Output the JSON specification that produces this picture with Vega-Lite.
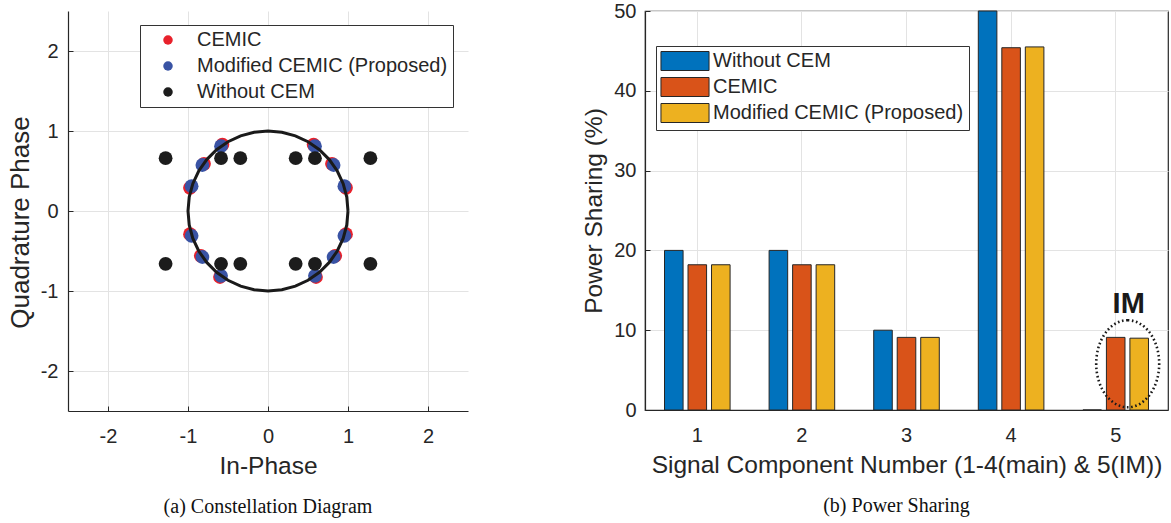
{
  "$schema": "https://vega.github.io/schema/vega-lite/v6.json",
  "padding": {"left": 7, "top": 0, "right": 2, "bottom": 2},
  "background": "white",
  "config": {
    "font": "Liberation Sans",
    "view": {"stroke": null},
    "concat": {"spacing": 113},
    "axis": {
      "labelFont": "Liberation Sans",
      "titleFont": "Liberation Sans",
      "labelFontSize": 20,
      "titleFontSize": 24.5,
      "titleFontWeight": "normal",
      "labelColor": "#262626",
      "titleColor": "#262626",
      "domainColor": "#262626",
      "domainWidth": 1.2,
      "tickColor": "#262626",
      "tickSize": -5,
      "tickWidth": 1,
      "gridColor": "#e3e3e3",
      "gridWidth": 1
    }
  },
  "resolve": {"scale": {"color": "independent"}, "legend": {"color": "independent"}},
  "datasets": {
    "pts": [
      {"series": "CEMIC", "I": -0.57, "Q": 0.83},
      {"series": "CEMIC", "I": -0.8, "Q": 0.59},
      {"series": "CEMIC", "I": -0.975, "Q": 0.29},
      {"series": "CEMIC", "I": -0.975, "Q": -0.29},
      {"series": "CEMIC", "I": -0.84, "Q": -0.56},
      {"series": "CEMIC", "I": -0.6, "Q": -0.825},
      {"series": "CEMIC", "I": 0.57, "Q": 0.83},
      {"series": "CEMIC", "I": 0.8, "Q": 0.59},
      {"series": "CEMIC", "I": 0.975, "Q": 0.29},
      {"series": "CEMIC", "I": 0.975, "Q": -0.29},
      {"series": "CEMIC", "I": 0.84, "Q": -0.56},
      {"series": "CEMIC", "I": 0.6, "Q": -0.825},
      {"series": "Modified CEMIC (Proposed)", "I": -0.587, "Q": 0.81},
      {"series": "Modified CEMIC (Proposed)", "I": -0.82, "Q": 0.575},
      {"series": "Modified CEMIC (Proposed)", "I": -0.955, "Q": 0.31},
      {"series": "Modified CEMIC (Proposed)", "I": -0.955, "Q": -0.31},
      {"series": "Modified CEMIC (Proposed)", "I": -0.82, "Q": -0.575},
      {"series": "Modified CEMIC (Proposed)", "I": -0.587, "Q": -0.81},
      {"series": "Modified CEMIC (Proposed)", "I": 0.587, "Q": 0.81},
      {"series": "Modified CEMIC (Proposed)", "I": 0.82, "Q": 0.575},
      {"series": "Modified CEMIC (Proposed)", "I": 0.955, "Q": 0.31},
      {"series": "Modified CEMIC (Proposed)", "I": 0.955, "Q": -0.31},
      {"series": "Modified CEMIC (Proposed)", "I": 0.82, "Q": -0.575},
      {"series": "Modified CEMIC (Proposed)", "I": 0.587, "Q": -0.81},
      {"series": "Without CEM", "I": -1.28, "Q": 0.66},
      {"series": "Without CEM", "I": -0.587, "Q": 0.66},
      {"series": "Without CEM", "I": -0.346, "Q": 0.66},
      {"series": "Without CEM", "I": 0.346, "Q": 0.66},
      {"series": "Without CEM", "I": 0.587, "Q": 0.66},
      {"series": "Without CEM", "I": 1.28, "Q": 0.66},
      {"series": "Without CEM", "I": -1.28, "Q": -0.66},
      {"series": "Without CEM", "I": -0.587, "Q": -0.66},
      {"series": "Without CEM", "I": -0.346, "Q": -0.66},
      {"series": "Without CEM", "I": 0.346, "Q": -0.66},
      {"series": "Without CEM", "I": 0.587, "Q": -0.66},
      {"series": "Without CEM", "I": 1.28, "Q": -0.66}
    ],
    "circle": [
      {"a": 0, "I": 1, "Q": 0},
      {"a": 10, "I": 0.9848, "Q": 0.1736},
      {"a": 20, "I": 0.9397, "Q": 0.342},
      {"a": 30, "I": 0.866, "Q": 0.5},
      {"a": 40, "I": 0.766, "Q": 0.6428},
      {"a": 50, "I": 0.6428, "Q": 0.766},
      {"a": 60, "I": 0.5, "Q": 0.866},
      {"a": 70, "I": 0.342, "Q": 0.9397},
      {"a": 80, "I": 0.1736, "Q": 0.9848},
      {"a": 90, "I": 0, "Q": 1},
      {"a": 100, "I": -0.1736, "Q": 0.9848},
      {"a": 110, "I": -0.342, "Q": 0.9397},
      {"a": 120, "I": -0.5, "Q": 0.866},
      {"a": 130, "I": -0.6428, "Q": 0.766},
      {"a": 140, "I": -0.766, "Q": 0.6428},
      {"a": 150, "I": -0.866, "Q": 0.5},
      {"a": 160, "I": -0.9397, "Q": 0.342},
      {"a": 170, "I": -0.9848, "Q": 0.1736},
      {"a": 180, "I": -1, "Q": 0},
      {"a": 190, "I": -0.9848, "Q": -0.1736},
      {"a": 200, "I": -0.9397, "Q": -0.342},
      {"a": 210, "I": -0.866, "Q": -0.5},
      {"a": 220, "I": -0.766, "Q": -0.6428},
      {"a": 230, "I": -0.6428, "Q": -0.766},
      {"a": 240, "I": -0.5, "Q": -0.866},
      {"a": 250, "I": -0.342, "Q": -0.9397},
      {"a": 260, "I": -0.1736, "Q": -0.9848},
      {"a": 270, "I": 0, "Q": -1},
      {"a": 280, "I": 0.1736, "Q": -0.9848},
      {"a": 290, "I": 0.342, "Q": -0.9397},
      {"a": 300, "I": 0.5, "Q": -0.866},
      {"a": 310, "I": 0.6428, "Q": -0.766},
      {"a": 320, "I": 0.766, "Q": -0.6428},
      {"a": 330, "I": 0.866, "Q": -0.5},
      {"a": 340, "I": 0.9397, "Q": -0.342},
      {"a": 350, "I": 0.9848, "Q": -0.1736},
      {"a": 360, "I": 1, "Q": 0}
    ],
    "bars": [
      {"comp": "1", "series": "Without CEM", "pct": 20},
      {"comp": "1", "series": "CEMIC", "pct": 18.2},
      {"comp": "1", "series": "Modified CEMIC (Proposed)", "pct": 18.2},
      {"comp": "2", "series": "Without CEM", "pct": 20},
      {"comp": "2", "series": "CEMIC", "pct": 18.2},
      {"comp": "2", "series": "Modified CEMIC (Proposed)", "pct": 18.2},
      {"comp": "3", "series": "Without CEM", "pct": 10},
      {"comp": "3", "series": "CEMIC", "pct": 9.1},
      {"comp": "3", "series": "Modified CEMIC (Proposed)", "pct": 9.1},
      {"comp": "4", "series": "Without CEM", "pct": 50},
      {"comp": "4", "series": "CEMIC", "pct": 45.4},
      {"comp": "4", "series": "Modified CEMIC (Proposed)", "pct": 45.5},
      {"comp": "5", "series": "Without CEM", "pct": 0},
      {"comp": "5", "series": "CEMIC", "pct": 9.1},
      {"comp": "5", "series": "Modified CEMIC (Proposed)", "pct": 9.0}
    ],
    "ellipse": [{"comp": "5", "pct": 5.8}],
    "note": [{"comp": "5", "pct": 12.1, "label": "IM"}]
  },
  "hconcat": [
    {
      "width": 400,
      "height": 400,
      "title": {"text": "(a) Constellation Diagram", "orient": "bottom", "font": "Liberation Serif", "fontSize": 20, "fontWeight": "normal", "color": "#111111", "offset": 19, "frame": "group", "anchor": "middle"},
      "encoding": {
        "x": {"field": "I", "type": "quantitative", "scale": {"domain": [-2.5, 2.5], "nice": false, "zero": false},
              "axis": {"values": [-2, -1, 0, 1, 2], "labelExpr": "'' + datum.value", "title": "In-Phase", "grid": true, "labelPadding": 20, "titlePadding": 8}},
        "y": {"field": "Q", "type": "quantitative", "scale": {"domain": [-2.5, 2.5], "nice": false, "zero": false},
              "axis": {"values": [-2, -1, 0, 1, 2], "labelExpr": "'' + datum.value", "title": "Quadrature Phase", "titleFontSize": 26, "titleY": 211, "grid": true, "labelPadding": 15, "titlePadding": 7}}
      },
      "layer": [
        {
          "data": {"name": "pts"},
          "mark": {"type": "point", "filled": true, "shape": "circle", "size": 190, "opacity": 1},
          "encoding": {
            "color": {"field": "series", "type": "nominal",
              "scale": {"domain": ["CEMIC", "Modified CEMIC (Proposed)", "Without CEM"], "range": ["#e8212b", "#3953a4", "#1c1c1c"]},
              "legend": {"orient": "none", "legendX": 72, "legendY": 14, "title": null, "symbolType": "circle", "symbolSize": 90, "symbolStrokeWidth": 0, "symbolOffset": 13, "labelOffset": 19, "labelFontSize": 20, "labelFont": "Liberation Sans", "labelColor": "#262626", "labelLimit": 400, "padding": 5, "rowPadding": 6, "strokeColor": "#333333", "fillColor": "white"}}
          }
        },
        {
          "data": {"name": "circle"},
          "mark": {"type": "line", "color": "#1a1a1a", "strokeWidth": 3},
          "encoding": {"order": {"field": "a", "type": "quantitative"}}
        }
      ]
    },
    {
      "width": 523,
      "height": 399,
      "view": {"stroke": "#262626", "strokeWidth": 1.2},
      "title": {"text": "(b) Power Sharing", "orient": "bottom", "font": "Liberation Serif", "fontSize": 20, "fontWeight": "normal", "color": "#111111", "offset": 19, "frame": "group", "anchor": "middle", "dx": -10},
      "encoding": {
        "x": {"field": "comp", "type": "ordinal", "scale": {"paddingInner": 0.373, "paddingOuter": 0.1865},
              "axis": {"title": "Signal Component Number (1-4(main) & 5(IM))", "labelAngle": 0, "grid": true, "bandPosition": 0.5, "labelPadding": 20, "titlePadding": 8}},
        "y": {"field": "pct", "type": "quantitative", "scale": {"domain": [0, 50], "nice": false},
              "axis": {"values": [0, 10, 20, 30, 40, 50], "title": "Power Sharing (%)", "grid": true, "labelPadding": 14, "titlePadding": 7}}
      },
      "layer": [
        {
          "data": {"name": "bars"},
          "mark": {"type": "bar", "stroke": "#262626", "strokeWidth": 1},
          "encoding": {
            "xOffset": {"field": "series", "type": "nominal", "sort": ["Without CEM", "CEMIC", "Modified CEMIC (Proposed)"], "scale": {"paddingInner": 0.21, "paddingOuter": 0}},
            "color": {"field": "series", "type": "nominal",
              "scale": {"domain": ["Without CEM", "CEMIC", "Modified CEMIC (Proposed)"], "range": ["#0072BD", "#D95319", "#EDB120"]},
              "legend": {"orient": "none", "legendX": 11, "legendY": 35, "title": null, "symbolType": "M-2.53,-1H2.53V1H-2.53Z", "symbolSize": 361, "symbolStrokeColor": "#262626", "symbolStrokeWidth": 1, "symbolOpacity": 1, "symbolOffset": 14, "labelOffset": 18, "labelFontSize": 20, "labelFont": "Liberation Sans", "labelColor": "#262626", "labelLimit": 400, "padding": 5, "rowPadding": 2, "strokeColor": "#333333", "fillColor": "white"}}
          }
        },
        {
          "data": {"name": "ellipse"},
          "mark": {"type": "point", "shape": "M0,-1C0.4,-1 0.724,-0.5523 0.724,0C0.724,0.5523 0.4,1 0,1C-0.4,1 -0.724,0.5523 -0.724,0C-0.724,-0.5523 -0.4,-1 0,-1Z", "size": 7569, "filled": false, "stroke": "#1a1a1a", "strokeWidth": 2.6, "strokeDash": [1.6, 2.6], "opacity": 1, "xOffset": 12}
        },
        {
          "data": {"name": "note"},
          "mark": {"type": "text", "fontSize": 29, "fontWeight": "bold", "font": "Liberation Sans", "dx": 13, "baseline": "alphabetic", "align": "center", "color": "#1a1a1a"},
          "encoding": {"text": {"field": "label"}}
        }
      ]
    }
  ]
}
